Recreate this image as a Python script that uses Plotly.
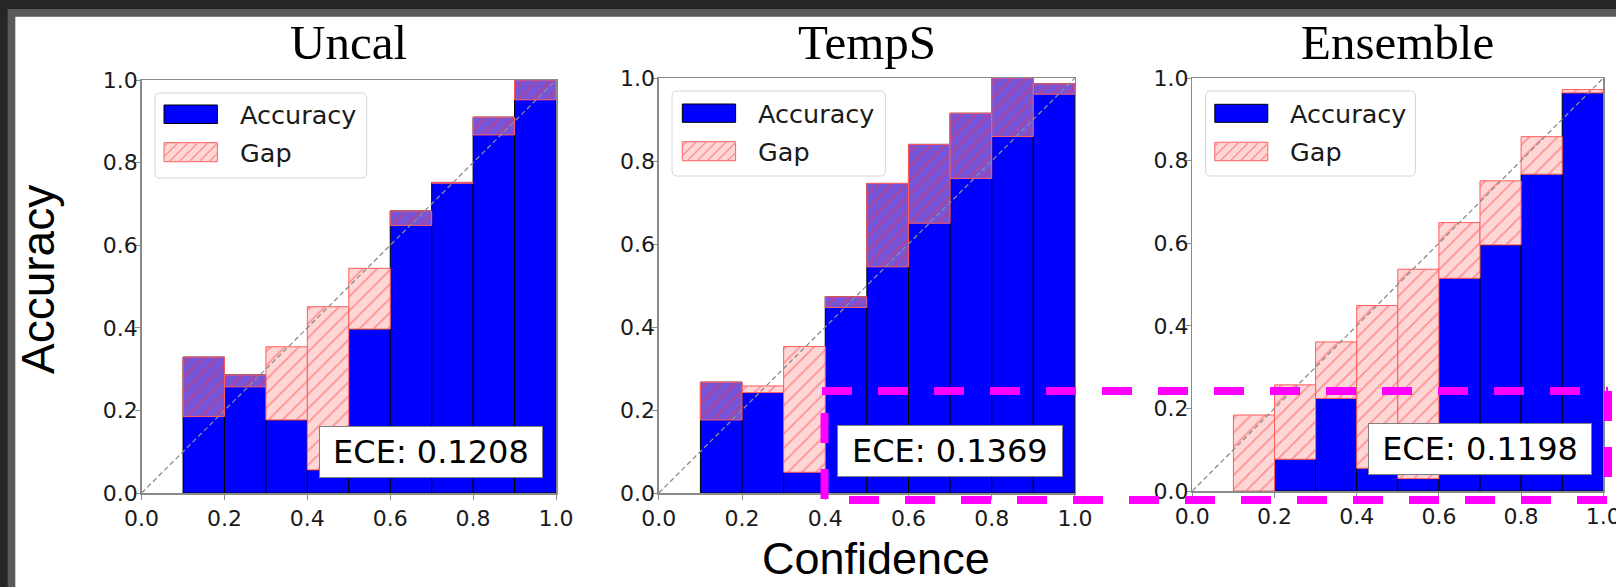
import plotly.graph_objects as go

W, H = 1616, 587

# ---------------- data ----------------
bin_centers = [0.05, 0.15, 0.25, 0.35, 0.45, 0.55, 0.65, 0.75, 0.85, 0.95]
bin_width = 0.1
titles = ["Uncal", "TempS", "Ensemble"]

uncal_acc = [None, 0.329, 0.286, 0.177, 0.056, 0.397, 0.683, 0.752, 0.910, 1.000]
uncal_conf = [None, 0.185, 0.257, 0.354, 0.451, 0.544, 0.648, 0.750, 0.867, 0.952]

temps_acc = [None, 0.267, 0.242, 0.050, 0.473, 0.746, 0.840, 0.915, 1.000, 0.986]
temps_conf = [None, 0.176, 0.258, 0.353, 0.447, 0.545, 0.650, 0.758, 0.859, 0.961]

ens_acc = [None, 0.0, 0.077, 0.224, 0.055, 0.030, 0.515, 0.596, 0.767, 0.964]
ens_conf = [None, 0.184, 0.257, 0.361, 0.449, 0.537, 0.650, 0.751, 0.858, 0.972]

ece_labels = ["ECE: 0.1208", "ECE: 0.1369", "ECE: 0.1198"]
tick_vals = [0.0, 0.2, 0.4, 0.6, 0.8, 1.0]
tick_text = ["0.0", "0.2", "0.4", "0.6", "0.8", "1.0"]
legend_labels = ["Accuracy", "Gap"]
x_title = "Confidence"
y_title = "Accuracy"

accs = [uncal_acc, temps_acc, ens_acc]
confs = [uncal_conf, temps_conf, ens_conf]

# ---------------- layout geometry (pixels) ----------------
axes_px = [(141.6, 556.0, 80, 493), (658.8, 1074.9, 78, 493), (1192.3, 1603.3, 78, 491)]
TICK_SIZE = 22
LEGEND_SIZE = 25.5
ECE_SIZE = 32
legend_geo = [
    dict(box=(155, 93, 366.6, 178), sx=(164, 217.4), ay=(105, 123.5), gy=(142.7, 161.7), tx=238),
    dict(box=(672, 91, 885.4, 176), sx=(682.3, 735.6), ay=(104, 122.3), gy=(141.7, 160.7), tx=756.3),
    dict(box=(1205.7, 91, 1415.4, 176), sx=(1214.8, 1267.8), ay=(104.3, 122.3), gy=(142.3, 160.7), tx=1288),
]
ece_boxes = [(319.5, 426, 543.4, 477.7), (837.2, 425, 1062.8, 477), (1368.3, 422.7, 1592.3, 475)]


def X(px):
    return px / W


def Y(py):
    return 1 - py / H


BLUE = "#0000ff"
PINK_ON_WHITE = "#ffd6d6"
PINK_ON_BLUE = "#7855d8"
HATCH_ON_WHITE = "#ff9090"
HATCH_ON_BLUE = "#b8408c"
GAP_EDGE = "#ff5c5c"
SPINE = "#8a8a8a"
TXT = "#1a1a1a"
MAGENTA = "#ff00ff"

fig = go.Figure()
shapes = []
annotations = []

# background frame
shapes.append(dict(type="rect", xref="paper", yref="paper", x0=X(-5), x1=X(W + 5), y0=Y(H + 5), y1=Y(-5),
                   fillcolor="#262626", line=dict(width=0), layer="below"))
shapes.append(dict(type="rect", xref="paper", yref="paper", x0=X(7.7), x1=X(W + 5), y0=Y(H + 5), y1=Y(9),
                   fillcolor="#5a5a5a", line=dict(width=0), layer="below"))
shapes.append(dict(type="rect", xref="paper", yref="paper", x0=X(15.3), x1=X(W + 5), y0=Y(H + 5), y1=Y(16.7),
                   fillcolor="white", line=dict(width=0), layer="below"))

for i in range(3):
    xa = "x" if i == 0 else f"x{i+1}"
    ya = "y" if i == 0 else f"y{i+1}"
    acc = accs[i]
    conf = confs[i]
    gap = [None if (a is None or c is None) else c - a for a, c in zip(acc, conf)]
    gap_over = [g if (g is not None and g >= 0) else None for g in gap]   # confidence above accuracy
    gap_under = [g if (g is not None and g < 0) else None for g in gap]   # accuracy above confidence

    # accuracy bars
    fig.add_trace(go.Bar(
        x=bin_centers, y=acc, width=bin_width, xaxis=xa, yaxis=ya,
        marker=dict(color=BLUE, line=dict(color="black", width=1)),
        showlegend=False, name=legend_labels[0]))
    # gap bars (semi-transparent pink hatched; blended colour drawn per case)
    for gvals, fill, hatch in [(gap_over, PINK_ON_WHITE, HATCH_ON_WHITE),
                               (gap_under, PINK_ON_BLUE, HATCH_ON_BLUE)]:
        fig.add_trace(go.Bar(
            x=bin_centers, y=gvals, base=acc, width=bin_width, xaxis=xa, yaxis=ya,
            marker=dict(color=fill, line=dict(width=0)),
            showlegend=False, name=legend_labels[1]))
        fig.add_trace(go.Bar(
            x=bin_centers, y=gvals, base=acc, width=bin_width, xaxis=xa, yaxis=ya,
            marker=dict(color=fill, line=dict(color=GAP_EDGE, width=1),
                        pattern=dict(shape="/", fgcolor=hatch, bgcolor=fill, size=10, solidity=0.17,
                                     fillmode="replace")),
            showlegend=False, name=legend_labels[1], hoverinfo="skip"))
    # perfect calibration diagonal
    fig.add_trace(go.Scatter(
        x=[0, 1], y=[0, 1], mode="lines", xaxis=xa, yaxis=ya,
        line=dict(color="#8c8c8c", width=1.3, dash="5px,3px"), showlegend=False, hoverinfo="skip"))

    x0, x1, y0, y1 = axes_px[i]
    axis_common = dict(
        range=[0, 1], tickvals=tick_vals, ticktext=tick_text, ticks="outside", ticklen=5,
        tickcolor=SPINE, tickwidth=1, showline=True, mirror=True, linecolor=SPINE, linewidth=1.5,
        showgrid=False, zeroline=False, fixedrange=True, automargin=False, ticklabeloverflow="allow",
        tickfont=dict(family="DejaVu Sans", size=TICK_SIZE, color=TXT))
    fig.layout[f"xaxis{'' if i == 0 else i+1}"] = dict(axis_common, domain=[X(x0), X(x1)], anchor=ya)
    fig.layout[f"yaxis{'' if i == 0 else i+1}"] = dict(axis_common, domain=[Y(y1), Y(y0)], anchor=xa,
                                                        ticklabelstandoff=-7)

    # subplot title
    annotations.append(dict(xref="paper", yref="paper", x=X((x0 + x1) / 2), y=Y(43), text=titles[i],
                            showarrow=False, xanchor="center", yanchor="middle",
                            font=dict(family="Liberation Serif", size=49, color="black")))

    # legend (drawn manually)
    g = legend_geo[i]
    bx0, by0, bx1, by1 = g["box"]
    r = 5
    path = (f"M {X(bx0+r)},{Y(by0)} L {X(bx1-r)},{Y(by0)} Q {X(bx1)},{Y(by0)} {X(bx1)},{Y(by0+r)} "
            f"L {X(bx1)},{Y(by1-r)} Q {X(bx1)},{Y(by1)} {X(bx1-r)},{Y(by1)} "
            f"L {X(bx0+r)},{Y(by1)} Q {X(bx0)},{Y(by1)} {X(bx0)},{Y(by1-r)} "
            f"L {X(bx0)},{Y(by0+r)} Q {X(bx0)},{Y(by0)} {X(bx0+r)},{Y(by0)} Z")
    shapes.append(dict(type="path", xref="paper", yref="paper", path=path,
                       fillcolor="rgba(255,255,255,0.85)", line=dict(color="#d6d6d6", width=1), layer="above"))
    sx0, sx1 = g["sx"]
    ay0, ay1 = g["ay"]
    gy0, gy1 = g["gy"]
    shapes.append(dict(type="rect", xref="paper", yref="paper", x0=X(sx0), x1=X(sx1), y0=Y(ay1), y1=Y(ay0),
                       fillcolor=BLUE, line=dict(color="black", width=1), layer="above"))
    shapes.append(dict(type="rect", xref="paper", yref="paper", x0=X(sx0), x1=X(sx1), y0=Y(gy1), y1=Y(gy0),
                       fillcolor=PINK_ON_WHITE, line=dict(color=GAP_EDGE, width=1), layer="above"))
    segs = []
    s = 10
    c = sx0 + gy0 + 4
    while c < sx1 + gy1:
        xa_ = max(sx0, c - gy1)
        xb_ = min(sx1, c - gy0)
        if xb_ > xa_:
            segs.append(f"M {X(xa_)},{Y(c - xa_)} L {X(xb_)},{Y(c - xb_)}")
        c += s
    shapes.append(dict(type="path", xref="paper", yref="paper", path=" ".join(segs),
                       line=dict(color=HATCH_ON_WHITE, width=1.4), layer="above"))
    for lbl, (q0, q1) in zip(legend_labels, [(ay0, ay1), (gy0, gy1)]):
        annotations.append(dict(xref="paper", yref="paper", x=X(g["tx"]), y=Y((q0 + q1) / 2 + 1), text=lbl,
                                showarrow=False, xanchor="left", yanchor="middle",
                                font=dict(family="DejaVu Sans", size=LEGEND_SIZE, color=TXT)))

    # ECE box
    ex0, ey0, ex1, ey1 = ece_boxes[i]
    annotations.append(dict(xref="paper", yref="paper", x=X(ex1), y=Y(ey1), text=ece_labels[i],
                            showarrow=False, xanchor="right", yanchor="bottom",
                            width=ex1 - ex0 - 2, height=ey1 - ey0 - 2, align="center", valign="middle",
                            bgcolor="white", bordercolor="#808080", borderwidth=1, borderpad=0,
                            font=dict(family="DejaVu Sans", size=ECE_SIZE, color="black")))

# axis titles
annotations.append(dict(xref="paper", yref="paper", x=X(876), y=Y(558), text=x_title, showarrow=False,
                        xanchor="center", yanchor="middle",
                        font=dict(family="Liberation Sans", size=45, color="black")))
annotations.append(dict(xref="paper", yref="paper", x=X(38), y=Y(280), text=y_title, showarrow=False,
                        xanchor="center", yanchor="middle", textangle=-90,
                        font=dict(family="Liberation Sans", size=46, color="black")))

# magenta dashed highlight box (four dashed sides)
mag = dict(color=MAGENTA, width=8, dash="30px,26px")
for (lx0, ly0, lx1, ly1) in [(822, 391, 1608, 391), (849, 500, 1608, 500),
                             (1608, 391, 1608, 480), (824.5, 413, 824.5, 500)]:
    shapes.append(dict(type="line", xref="paper", yref="paper", x0=X(lx0), y0=Y(ly0), x1=X(lx1), y1=Y(ly1),
                       line=mag, layer="above"))

fig.update_layout(
    width=W, height=H, margin=dict(l=0, r=0, t=0, b=0, pad=0), autosize=False,
    paper_bgcolor="#262626", plot_bgcolor="white",
    barmode="overlay", bargap=0, showlegend=False,
    shapes=shapes, annotations=annotations,
)

fig.write_html(
    "out.html",
    config={"displayModeBar": False, "staticPlot": True},
    post_script="document.documentElement.style.margin='0';document.body.style.margin='0';"
                "document.body.style.padding='0';document.body.style.background='#262626';"
                "document.body.style.overflow='hidden';",
)
